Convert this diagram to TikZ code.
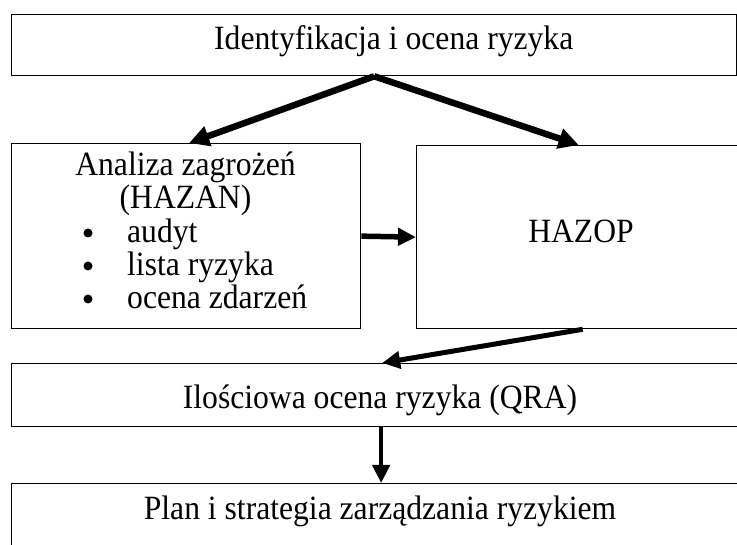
\documentclass[tikz,border=0pt]{standalone}
\usepackage{fontspec}
\setmainfont[FakeStretch=0.93]{Liberation Serif}
\usetikzlibrary{arrows.meta}
\begin{document}
\begin{tikzpicture}[x=1pt,y=-1pt,
  box/.style={draw=black,line width=1.3pt,rectangle,inner sep=0pt,anchor=north west},
  txt/.style={inner sep=0pt,font=\fontsize{34}{38}\selectfont},
  dot/.style={circle,fill=black,inner sep=0pt,minimum size=9pt},
  bigarrow/.style={line width=6.5pt,-{Triangle[length=20pt,width=20pt]}},
  medarrow/.style={line width=5pt,-{Triangle[length=18pt,width=17pt]}}]
\useasboundingbox (0,0) rectangle (737,545);
\clip (0,0) rectangle (737,545);
% boxes
\node[box,minimum width=725pt,minimum height=61pt] (top) at (11,14) {};
\node[box,minimum width=349pt,minimum height=185pt] (left) at (11,143) {};
\node[box,minimum width=330pt,minimum height=183pt] (right) at (416,145) {};
\node[box,minimum width=735pt,minimum height=63pt] (qra) at (11,363) {};
\node[box,minimum width=735pt,minimum height=80pt] (plan) at (11,483) {};
% texts
\node[txt,anchor=base west] (ttop) at (214,50) {Identyfikacja i ocena ryzyka};
\node[txt,anchor=base] (t1) at (185.5,176) {Analiza zagrożeń};
\node[txt,anchor=base] (t2) at (185.5,209) {(HAZAN)};
\node[dot] (b1) at (88,233) {};
\node[dot] (b2) at (88,266) {};
\node[dot] (b3) at (88,299) {};
\node[txt,anchor=base west] (i1) at (127,243) {audyt};
\node[txt,anchor=base west] (i2) at (127,276) {lista ryzyka};
\node[txt,anchor=base west] (i3) at (127,309) {ocena zdarzeń};
\node[txt,anchor=base] (thazop) at (581,243) {HAZOP};
\node[txt,anchor=base] (tqra) at (380,409) {Ilościowa ocena ryzyka (QRA)};
\node[txt,anchor=base] (tplan) at (380,519) {Plan i strategia zarządzania ryzykiem};
% arrows
\draw[bigarrow] (top.south) -- ([xshift=3pt]left.north);
\draw[bigarrow] (top.south) -- ([xshift=-3pt]right.north);
\draw[medarrow,line width=5.5pt] (left.east) -- (right.west);
\draw[medarrow] ([xshift=1pt]right.south) -- ([xshift=3pt]qra.north);
\draw[medarrow,line width=4.5pt] ([xshift=2pt]qra.south) -- ([xshift=2pt]plan.north);
\end{tikzpicture}
\end{document}
